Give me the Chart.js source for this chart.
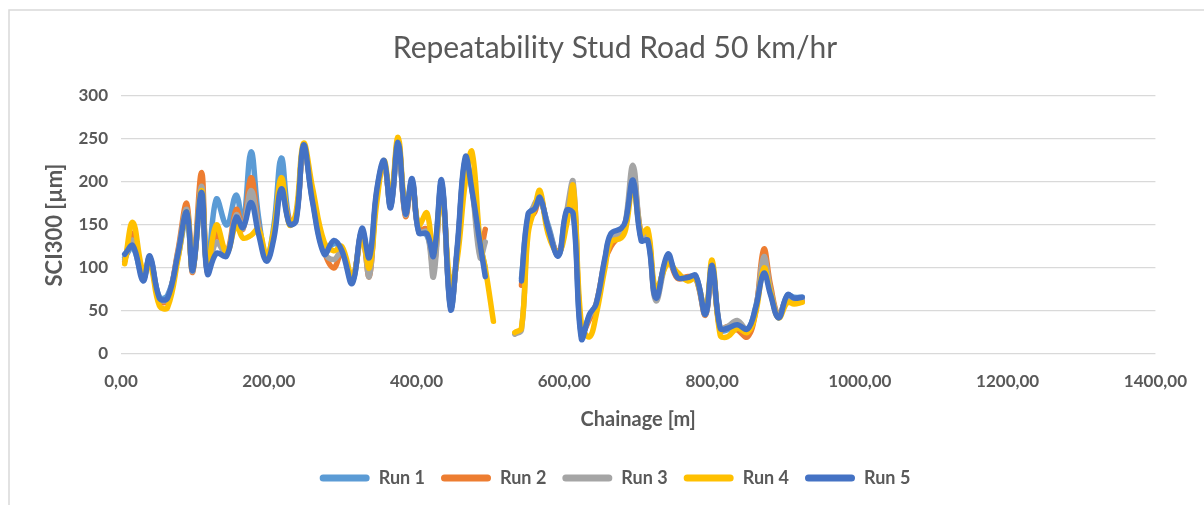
<!DOCTYPE html>
<html>
<head>
<meta charset="utf-8">
<script src="https://cdn.jsdelivr.net/npm/chart.js@4.4.1/dist/chart.umd.min.js"></script>
<style>
  html, body { margin: 0; padding: 0; background: #fff; overflow: hidden; }
  #wrap { width: 1204px; height: 505px; }
</style>
</head>
<body>
<div id="wrap"><canvas id="myChart"></canvas></div>
<script>
// chainage [m]; 518 is the missing stretch
const chainage = [5,16,30,39,52,63,77,89,97,109,117,129,143,156,165,176,186,197,207,217,228,237,247,259,275,288,299,313,326,336,346,356,365,375,385,394,403,414,423,434,446,455,466,475,486,493,504,
  518,
  533,542,551,560,567,578,592,603,612,623,634,643,655,663,677,683,693,704,713,724,740,753,767,778,791,800,811,821,834,848,859,870,879,890,902,911,922];

const run1 = [112,124,88,112,66,68,112,160,100,185,98,180,150,185,150,235,160,112,150,228,155,160,240,180,118,128,122,85,143,110,185,222,172,243,165,200,143,138,112,198,55,120,226,192,128,100,null,
  null,
  null,88,160,172,178,150,115,165,168,22,44,55,108,138,140,152,205,135,135,68,112,90,88,90,48,100,28,28,32,28,55,100,72,44,68,66,66];
const run2 = [108,140,90,110,62,62,120,175,95,211,95,140,118,168,145,205,150,110,140,200,155,160,238,185,120,100,118,88,140,90,185,220,175,248,160,200,145,145,98,195,60,118,222,195,120,145,null,
  null,
  null,80,155,165,185,145,118,160,190,25,40,58,108,125,140,150,210,140,140,68,112,88,90,88,45,100,28,32,28,20,50,122,80,45,65,62,62];
const run3 = [110,132,88,112,64,64,118,168,96,195,96,130,116,162,146,190,148,112,142,195,152,158,240,182,118,110,120,85,142,90,188,222,172,245,162,202,142,142,90,198,55,120,225,192,112,130,null,
  null,
  23,28,150,175,180,148,115,165,200,22,44,58,110,135,140,155,219,138,138,62,110,92,88,88,46,100,30,32,39,28,52,113,75,45,66,64,64];
const run4 = [105,153,95,105,56,54,110,165,98,190,100,150,118,150,135,138,145,115,145,205,150,165,245,194,130,120,125,90,135,100,175,225,180,252,170,195,150,164,115,185,80,110,200,235,130,100,38,
  null,
  25,30,140,170,190,140,118,150,195,35,20,45,100,130,135,145,195,140,145,75,105,95,85,88,50,109,22,20,30,25,48,100,72,42,60,58,60];
const run5 = [116,126,85,114,65,65,116,165,97,188,93,117,114,159,147,176,140,108,135,192,151,155,243,178,116,132,120,82,146,112,190,225,170,246,163,204,141,140,114,202,52,124,229,190,128,90,null,
  null,
  null,85,163,169,182,147,114,167,163,18,46,58,112,140,146,155,202,132,132,65,116,89,89,91,46,103,30,30,34,29,54,94,69,42,69,65,66];

const runNames = ["Run 1", "Run 2", "Run 3", "Run 4", "Run 5"];
const runColors = ["#5B9BD5", "#ED7D31", "#A5A5A5", "#FFC000", "#4472C4"];
const runValues = [run1, run2, run3, run4, run5];

const FONT = "Lato, 'Open Sans', sans-serif";
const GREY = "#595959";

// light frame like the Excel chart border
const framePlugin = {
  id: "frame",
  beforeDraw(chart) {
    const c = chart.ctx;
    c.save();
    c.strokeStyle = "#d9d9d9";
    c.lineWidth = 1.5;
    c.beginPath();
    c.moveTo(9, 520);
    c.lineTo(9, 10);
    c.lineTo(1220, 10);
    c.stroke();
    c.restore();
  }
};

const datasets = runNames.map((name, i) => ({
  label: name,
  data: chainage.map((x, j) => ({ x: x, y: runValues[i][j] })),
  borderColor: runColors[i],
  backgroundColor: runColors[i],
  borderWidth: 5.5,
  pointRadius: 0,
  tension: 0.4,
  spanGaps: false,
  borderCapStyle: "round",
  borderJoinStyle: "round",
  order: 5 - i
}));

new Chart(document.getElementById("myChart"), {
  type: "line",
  data: { datasets: datasets },
  options: {
    responsive: true,
    maintainAspectRatio: false,
    animation: false,
    layout: { padding: { left: 37, right: 11, top: 0, bottom: 8 } },
    plugins: {
      title: {
        display: true,
        text: "Repeatability Stud Road 50 km/hr",
        color: GREY,
        font: { family: FONT, size: 30, weight: "normal" },
        padding: { top: 30, bottom: 30 }
      },
      legend: {
        position: "bottom",
        labels: {
          color: GREY,
          font: { family: FONT, size: 18, weight: "bold" },
          boxWidth: 50,
          boxHeight: 7,
          padding: 16,
          useBorderRadius: true,
          borderRadius: 3.5,
          sort: (a, b) => a.datasetIndex - b.datasetIndex,
          generateLabels: (chart) =>
            Chart.defaults.plugins.legend.labels.generateLabels(chart).map(l => ({ ...l, lineWidth: 0 }))
        }
      },
      tooltip: { enabled: false }
    },
    scales: {
      x: {
        type: "linear",
        min: 0,
        max: 1400,
        ticks: {
          stepSize: 200,
          color: GREY,
          padding: 17,
          maxRotation: 0,
          font: { family: FONT, size: 17, weight: "bold" },
          callback: (v) => v.toFixed(2).replace(".", ",")
        },
        grid: { display: false, drawTicks: false },
        border: { display: false },
        title: {
          display: true,
          text: "Chainage [m]",
          color: GREY,
          font: { family: FONT, size: 20, weight: "bold" },
          padding: { top: 0, bottom: 21 }
        },
        afterFit: (s) => { s.height = 99; }
      },
      y: {
        min: 0,
        max: 300,
        ticks: {
          stepSize: 50,
          color: GREY,
          padding: 13,
          font: { family: FONT, size: 17, weight: "bold" }
        },
        grid: { color: "#d9d9d9", lineWidth: 1.3, drawTicks: false },
        border: { display: false },
        title: {
          display: true,
          text: "SCI300 [µm]",
          color: GREY,
          font: { family: FONT, size: 22, weight: "bold" },
          padding: { top: 5, bottom: 0 }
        },
        afterFit: (s) => { s.width = 84; }
      },
      // empty right axis only to keep the plot clear of the right edge
      yRight: {
        position: "right",
        display: true,
        ticks: { display: false },
        grid: { display: false, drawTicks: false },
        border: { display: false },
        afterFit: (s) => { s.width = 33; }
      }
    }
  },
  plugins: [framePlugin]
});
</script>
</body>
</html>
